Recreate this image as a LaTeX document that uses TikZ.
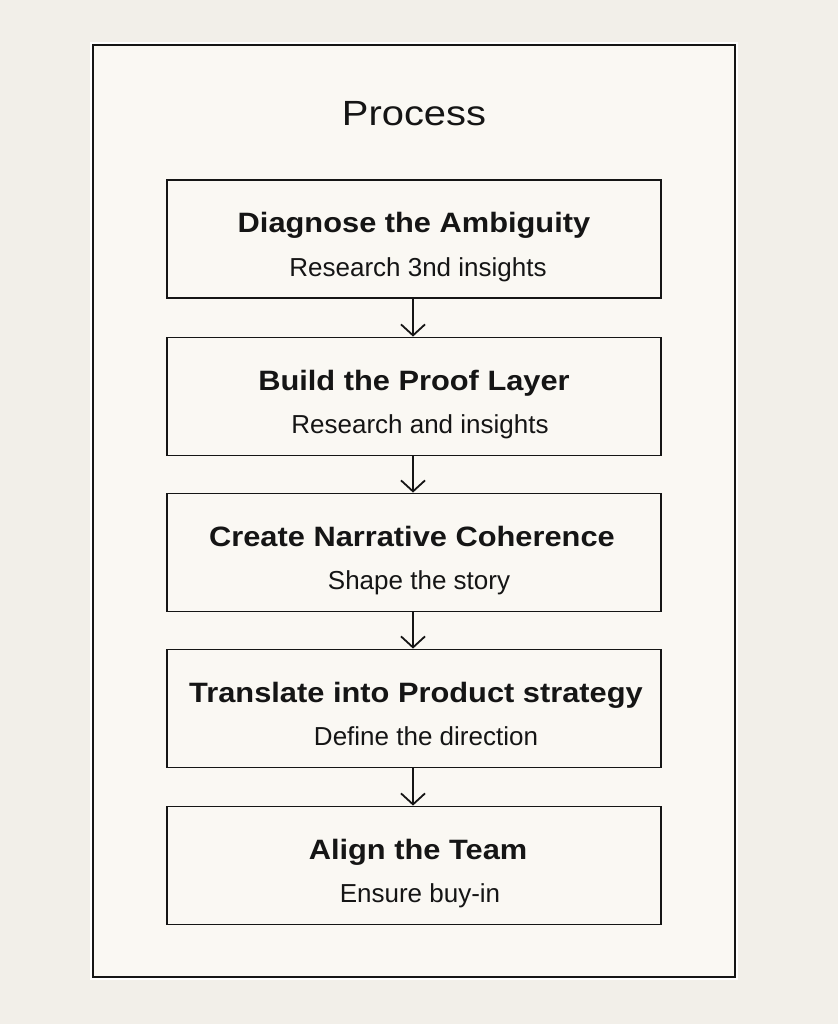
\documentclass[tikz,border=0pt]{standalone}
\usepackage{fontspec}
\setmainfont{Liberation Sans}
\usetikzlibrary{arrows.meta}
\definecolor{outerbg}{HTML}{F2EFE9}
\definecolor{innerbg}{HTML}{FAF8F3}
\definecolor{ink}{HTML}{151515}
\tikzset{
  box/.style={draw=ink, line width=1.8pt, fill=innerbg, minimum width=494pt, minimum height=118pt, inner sep=0pt},
  headtxt/.style={anchor=base, text=ink, inner sep=0pt, font=\fontsize{28}{28}\selectfont\bfseries, xscale=1.1},
  subtxt/.style={anchor=base, text=ink, inner sep=0pt, font=\fontsize{26}{26}\selectfont},
  flow/.style={draw=ink, line width=1.8pt, -{Straight Barb[length=11pt,width=24pt,line width=1.8pt]}}
}
\begin{document}
\begin{tikzpicture}[x=1pt,y=-1pt]
\useasboundingbox (0,0) rectangle (838,1024);
\fill[outerbg] (0,0) rectangle (838,1024);
\draw[white, line width=1.5pt] (91,43) rectangle (737,979);
\draw[ink, line width=2.4pt, fill=innerbg] (93,45) rectangle (735,977);
\node[anchor=base, text=ink, inner sep=0pt, font=\fontsize{35}{35}\selectfont, xscale=1.14] (title) at (414,126) {Process};

\node[box] (b1) at (414,239) {};
\node[box] (b2) at (414,396.5) {};
\node[box] (b3) at (414,552.5) {};
\node[box] (b4) at (414,708.5) {};
\node[box] (b5) at (414,865.5) {};

\node[headtxt] (t1) at (414,233) {Diagnose the Ambiguity};
\node[subtxt] (s1) at (418,276) {Research 3nd insights};
\node[headtxt] (t2) at (414,390) {Build the Proof Layer};
\node[subtxt] (s2) at (420,433) {Research and insights};
\node[headtxt] (t3) at (412,546) {Create Narrative Coherence};
\node[subtxt] (s3) at (419,589) {Shape the story};
\node[headtxt] (t4) at (416,702) {Translate into Product strategy};
\node[subtxt] (s4) at (426,745) {Define the direction};
\node[headtxt] (t5) at (418,859) {Align the Team};
\node[subtxt] (s5) at (420,902) {Ensure buy-in};

\draw[flow] (b1.south -| 413,0) -- (b2.north -| 413,0);
\draw[flow] (b2.south -| 413,0) -- (b3.north -| 413,0);
\draw[flow] (b3.south -| 413,0) -- (b4.north -| 413,0);
\draw[flow] (b4.south -| 413,0) -- (b5.north -| 413,0);
\end{tikzpicture}
\end{document}
